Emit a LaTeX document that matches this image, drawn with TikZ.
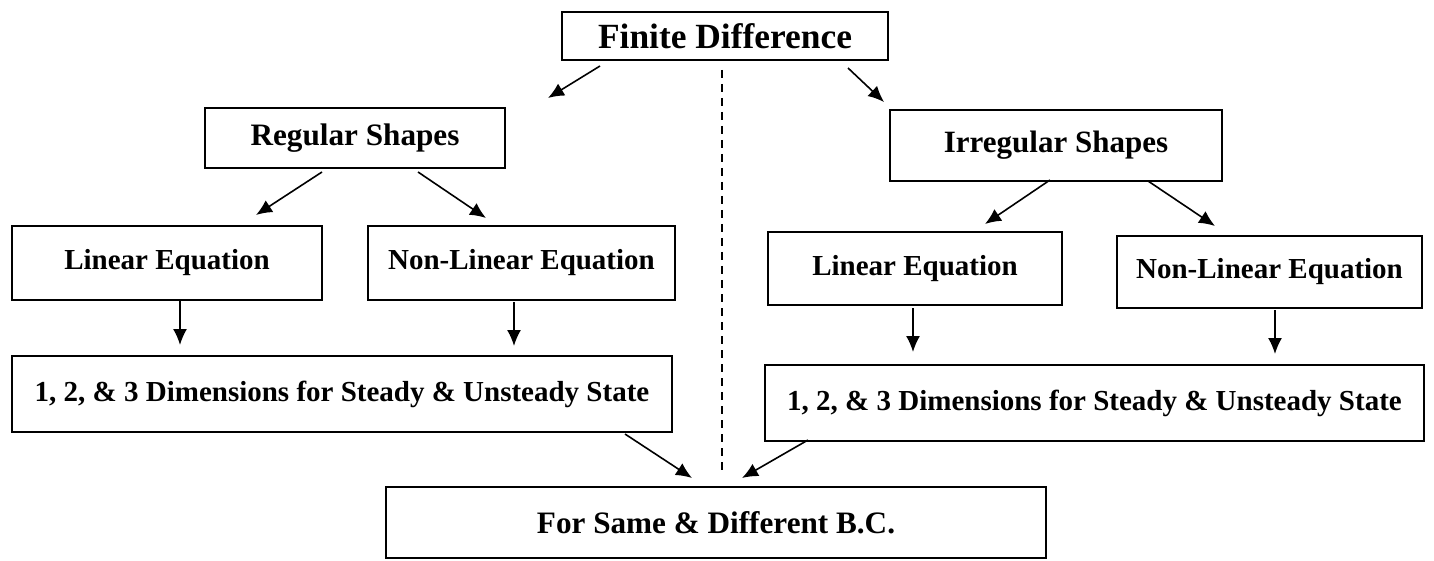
\documentclass[tikz,border=0pt]{standalone}
\usepackage{fontspec}
\setmainfont{Liberation Serif}
\usetikzlibrary{arrows.meta}

\tikzset{
  box/.style={draw, line width=0.9pt, inner sep=0pt, outer sep=0pt, font=\bfseries\fontsize{14.5}{17}\selectfont},
  arr/.style={-{Latex[length=8pt,width=7pt]}, line width=0.8pt}
}

\begin{document}
\begin{tikzpicture}[x=0.5pt, y=-0.5pt]
    \useasboundingbox (0,0) rectangle (1434,561);
    % top and second row
    \node[box, minimum width=163pt, minimum height=24pt, font=\bfseries\fontsize{17.7}{20}\selectfont] (fd) at (725,36) {Finite Difference};
    \node[box, minimum width=150pt, minimum height=30pt, font=\bfseries\fontsize{15.6}{18}\selectfont] (reg) at (355,138) {Regular Shapes};
    \node[box, minimum width=166pt, minimum height=35.5pt, font=\bfseries\fontsize{15.5}{18}\selectfont] (irr) at (1056,145.5) {Irregular Shapes};
    % equations
    \node[box, minimum width=155pt, minimum height=37pt] (linl) at (167,263) {Linear Equation};
    \node[box, minimum width=153.5pt, minimum height=37pt] (nonl) at (521.5,263) {Non-Linear Equation};
    \node[box, minimum width=147pt, minimum height=36.5pt] (linr) at (915,268.5) {Linear Equation};
    \node[box, minimum width=152.5pt, minimum height=36pt] (nonr) at (1269.5,272) {Non-Linear Equation};
    % dimensions
    \node[box, minimum width=330pt, minimum height=38pt] (diml) at (342,394) {1, 2, \& 3 Dimensions for Steady \& Unsteady State};
    \node[box, minimum width=329.5pt, minimum height=38pt] (dimr) at (1094.5,403) {1, 2, \& 3 Dimensions for Steady \& Unsteady State};
    \node[box, minimum width=330pt, minimum height=35.5pt, font=\bfseries\fontsize{15.6}{18}\selectfont] (bc) at (716,522.5) {For Same \& Different B.C.};

    \draw[line width=0.8pt, dash pattern=on 4pt off 3pt] ([shift={(-3,10)}]fd.south) -- ([shift={(6,-17)}]bc.north);

    \draw[arr] ([shift={(38,6)}]fd.south west) -- ([shift={(43,-10)}]reg.north east);
    \draw[arr] ([shift={(-40,8)}]fd.south east) -- ([shift={(-6,-8)}]irr.north west);
    \draw[arr] ([shift={(-33,4)}]reg.south) -- ([shift={(89,-11)}]linl.north);
    \draw[arr] ([shift={(63,4)}]reg.south) -- ([shift={(-35.5,-8)}]nonl.north);
    \draw[arr] ([shift={(-6,-1)}]irr.south) -- ([shift={(70,-8)}]linr.north);
    \draw[arr] ([shift={(92,0)}]irr.south) -- ([shift={(-54.5,-10)}]nonr.north);

    \draw[arr] ([shift={(13,0)}]linl.south) -- ([shift={(168,-11)}]diml.north west);
    \draw[arr] ([shift={(-7.5,2)}]nonl.south) -- ([shift={(502,-10)}]diml.north west);
    \draw[arr] ([shift={(-2,3)}]linr.south) -- ([shift={(148,-13)}]dimr.north west);
    \draw[arr] ([shift={(5.5,2)}]nonr.south) -- ([shift={(510,-11)}]dimr.north west);

    \draw[arr] ([shift={(-47,2)}]diml.south east) -- ([shift={(-24,-9)}]bc.north);
    \draw[arr] ([shift={(43,-1)}]dimr.south west) -- ([shift={(26,-9)}]bc.north);
\end{tikzpicture}
\end{document}
